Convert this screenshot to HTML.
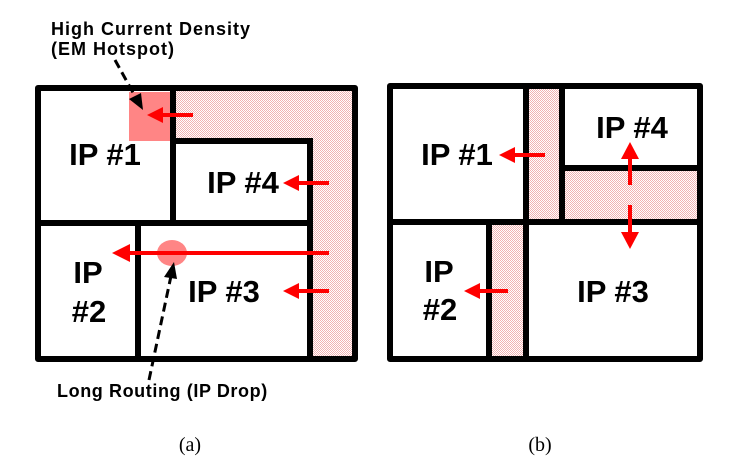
<!DOCTYPE html>
<html>
<head>
<meta charset="utf-8">
<style>
  html, body { margin: 0; padding: 0; background: #fff; }
  svg { display: block; }
  .ip { font-family: "Liberation Sans", Arial, sans-serif; font-weight: bold; font-size: 31px; fill: #000; }
  .lbl { font-family: "Liberation Sans", Arial, sans-serif; font-weight: bold; font-size: 18px; fill: #000; letter-spacing: 0.6px; }
  .cap { font-family: "Liberation Serif", "Times New Roman", serif; font-size: 20px; fill: #000; }
</style>
</head>
<body>
<svg width="729" height="472" viewBox="0 0 729 472" xmlns="http://www.w3.org/2000/svg">
  <defs>
    <pattern id="hatch" patternUnits="userSpaceOnUse" width="2" height="2">
      <rect x="0" y="0" width="2" height="2" fill="#ffffff"/>
      <rect x="0" y="0" width="1" height="1" fill="#f2b2b2"/>
      <rect x="1" y="1" width="1" height="1" fill="#f2b2b2"/>
    </pattern>
  </defs>

  <!-- ================= (a) ================= -->
  <polygon points="176,91 352,91 352,356 313,356 313,144 176,144" fill="url(#hatch)"/>
  <rect x="129" y="92" width="41" height="49" fill="#ff8585"/>
  <ellipse cx="172" cy="253" rx="15" ry="13" fill="#ff8585"/>

  <g stroke="#000" stroke-width="6" fill="none" stroke-linecap="square">
    <rect x="38" y="88" width="317" height="271" stroke-linejoin="round"/>
    <line x1="173" y1="88" x2="173" y2="223"/>
    <line x1="38" y1="223" x2="310" y2="223"/>
    <line x1="173" y1="141" x2="310" y2="141"/>
    <line x1="310" y1="141" x2="310" y2="359"/>
    <line x1="138" y1="223" x2="138" y2="359"/>
  </g>

  <g stroke="#ff0000" stroke-width="4">
    <line x1="193" y1="115" x2="160" y2="115"/>
    <line x1="329" y1="183" x2="296" y2="183"/>
    <line x1="329" y1="253" x2="126" y2="253"/>
    <line x1="329" y1="291" x2="296" y2="291"/>
  </g>
  <g fill="#ff0000">
    <polygon points="147,115 163,107 163,123"/>
    <polygon points="283,183 299,175 299,191"/>
    <polygon points="112,253 130,244 130,262"/>
    <polygon points="283,291 299,283 299,299"/>
  </g>

  <g stroke="#000" stroke-width="3" stroke-dasharray="9,5" fill="none">
    <line x1="115" y1="60" x2="136" y2="98"/>
    <line x1="149" y1="380" x2="171" y2="276"/>
  </g>
  <g fill="#000">
    <polygon points="143,110 129,99 141,93"/>
    <polygon points="174,262 164,277 177,279"/>
  </g>

  <text class="ip" x="105" y="165" text-anchor="middle">IP #1</text>
  <text class="ip" x="243" y="193" text-anchor="middle">IP #4</text>
  <text class="ip" x="88" y="283" text-anchor="middle">IP</text>
  <text class="ip" x="89" y="322" text-anchor="middle">#2</text>
  <text class="ip" x="224" y="302" text-anchor="middle">IP #3</text>

  <text class="lbl" x="51" y="35" style="letter-spacing:1px">High Current Density</text>
  <text class="lbl" x="51" y="55" style="letter-spacing:1px">(EM Hotspot)</text>
  <text class="lbl" x="57" y="397">Long Routing (IP Drop)</text>

  <text class="cap" x="190" y="451" text-anchor="middle">(a)</text>

  <!-- ================= (b) ================= -->
  <rect x="529" y="89" width="30" height="130" fill="url(#hatch)"/>
  <rect x="565" y="171" width="132" height="48" fill="url(#hatch)"/>
  <rect x="492" y="225" width="31" height="131" fill="url(#hatch)"/>

  <g stroke="#000" stroke-width="6" fill="none" stroke-linecap="square">
    <rect x="390" y="86" width="310" height="273" stroke-linejoin="round"/>
    <line x1="526" y1="86" x2="526" y2="359"/>
    <line x1="562" y1="86" x2="562" y2="222"/>
    <line x1="562" y1="168" x2="700" y2="168"/>
    <line x1="390" y1="222" x2="700" y2="222"/>
    <line x1="489" y1="222" x2="489" y2="359"/>
  </g>

  <g stroke="#ff0000" stroke-width="4">
    <line x1="545" y1="155" x2="512" y2="155"/>
    <line x1="508" y1="291" x2="477" y2="291"/>
    <line x1="630" y1="185" x2="630" y2="156"/>
    <line x1="630" y1="205" x2="630" y2="235"/>
  </g>
  <g fill="#ff0000">
    <polygon points="499,155 515,147 515,163"/>
    <polygon points="464,291 480,283 480,299"/>
    <polygon points="630,142 621,159 639,159"/>
    <polygon points="630,249 621,232 639,232"/>
  </g>

  <text class="ip" x="457" y="165" text-anchor="middle">IP #1</text>
  <text class="ip" x="632" y="138" text-anchor="middle">IP #4</text>
  <text class="ip" x="439" y="282" text-anchor="middle">IP</text>
  <text class="ip" x="440" y="320" text-anchor="middle">#2</text>
  <text class="ip" x="613" y="302" text-anchor="middle">IP #3</text>

  <text class="cap" x="540" y="451" text-anchor="middle">(b)</text>
</svg>
</body>
</html>
